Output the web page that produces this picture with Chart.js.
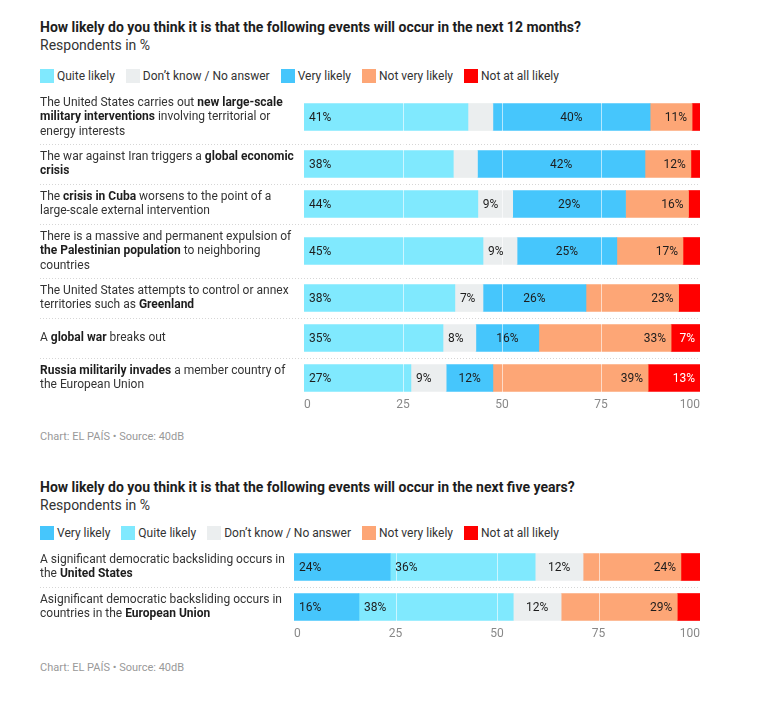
<!DOCTYPE html>
<html>
<head>
<meta charset="utf-8">
<script src="https://cdn.jsdelivr.net/npm/chart.js@4/dist/chart.umd.min.js"></script>
<style>
  body { margin: 0; background: #fff; font-family: Roboto, sans-serif; color: #333; }
  .abs { position: absolute; left: 40px; }
  .title { font-size: 14px; font-weight: 700; line-height: 18px; color: #1d1d1d; }
  .sub { font-size: 14px; line-height: 18px; color: #333; }
  .legend { display: flex; align-items: center; font-size: 12px; line-height: 16px; color: #333; }
  .legend .item { display: flex; align-items: center; margin-right: 11px; }
  .legend .sq { width: 14px; height: 14px; margin-right: 3px; }
  .source { font-size: 11px; line-height: 14px; color: #999; }
  canvas { position: absolute; left: 0; }
</style>
</head>
<body>

<div class="abs" style="top:18px">
  <div class="title">How likely do you think it is that the following events will occur in the next 12 months?</div>
  <div class="sub">Respondents in %</div>
</div>
<div class="abs legend" id="legend12" style="top:68px"></div>
<canvas id="chart12" width="777" height="328" style="top:90px"></canvas>
<div class="abs source" style="top:430px">Chart: EL PAÍS • Source: 40dB</div>

<div class="abs" style="top:478px">
  <div class="title">How likely do you think it is that the following events will occur in the next five years?</div>
  <div class="sub">Respondents in %</div>
</div>
<div class="abs legend" id="legend5" style="top:525px"></div>
<canvas id="chart5" width="777" height="100" style="top:547px"></canvas>
<div class="abs source" style="top:661px">Chart: EL PAÍS • Source: 40dB</div>

<script>
// ---- data: next 12 months (labels show rounded values) ----
const labels12 = [
  ["The United States carries out **new large-scale**", "**military interventions** involving territorial or", "energy interests"],
  ["The war against Iran triggers a **global economic**", "**crisis**"],
  ["The **crisis in Cuba** worsens to the point of a", "large-scale external intervention"],
  ["There is a massive and permanent expulsion of", "**the Palestinian population** to neighboring", "countries"],
  ["The United States attempts to control or annex", "territories such as **Greenland**"],
  ["A **global war** breaks out"],
  ["**Russia militarily invades** a member country of", "the European Union"]
];
const quiteLikely12 = [41.4, 37.7, 43.9, 45.2, 38.1, 35.1, 27];
const dontKnow12 = [6.3, 6.1, 8.8, 8.6, 7.1, 8.3, 8.9];
const veryLikely12 = [39.7, 42.3, 28.5, 25.2, 26, 15.9, 11.8];
const notVeryLikely12 = [10.6, 11.6, 15.9, 16.7, 23.4, 33.4, 39.2];
const notAtAllLikely12 = [2, 2.3, 2.9, 4.3, 5.4, 7.3, 13.1];

// ---- data: next five years ----
const labels5 = [
  ["A significant democratic backsliding occurs in", "the **United States**"],
  ["Asignificant democratic backsliding occurs in", "countries in the **European Union**"]
];
const veryLikely5 = [23.7, 16];
const quiteLikely5 = [35.7, 38];
const dontKnow5 = [11.8, 11.8];
const notVeryLikely5 = [24.1, 28.6];
const notAtAllLikely5 = [4.7, 5.6];

const xTicks = [0, 25, 50, 75, 100];

const COLORS = {
  very: '#46c6fc',
  quite: '#80e9fe',
  dk: '#ebeeef',
  notVery: '#fda676',
  notAtAll: '#ff0000'
};

// row height depends on how many lines the label needs
function rowHeight(lines) { return lines.length >= 3 ? 54 : 40; }

function rowLayout(labels) {
  let y = 0;
  const centers = [], bounds = [];
  labels.forEach((l, i) => {
    const h = rowHeight(l);
    centers.push(y + h / 2);
    y += h;
    if (i < labels.length - 1) bounds.push(y);
  });
  return {centers, bounds, total: y};
}

function buildLegend(id, series) {
  const el = document.getElementById(id);
  series.forEach(s => {
    const item = document.createElement('span');
    item.className = 'item';
    item.innerHTML = '<span class="sq" style="background:' + s.color + '"></span>' + s.name;
    el.appendChild(item);
  });
}

// mixed bold/regular text in one line
function drawRichLine(ctx, line, x, y) {
  const parts = line.split('**');
  let cx = x;
  parts.forEach((p, i) => {
    if (!p) return;
    const bold = i % 2 === 1;
    ctx.font = (bold ? '700 ' : '400 ') + '12px Roboto';
    ctx.fillStyle = bold ? '#1d1d1d' : '#333';
    ctx.fillText(p, cx, y);
    cx += ctx.measureText(p).width;
  });
}

const decor = {
  id: 'decor',
  beforeDatasetsDraw(chart, args, opts) {
    const ctx = chart.ctx, ys = chart.scales.y;
    ctx.save();
    ctx.strokeStyle = '#d6d6d6';
    ctx.lineWidth = 1;
    ctx.setLineDash([1, 2]);
    opts.bounds.forEach(b => {
      const py = Math.round(ys.getPixelForValue(b)) + 0.5;
      ctx.beginPath();
      ctx.moveTo(40, py);
      ctx.lineTo(chart.chartArea.right, py);
      ctx.stroke();
    });
    ctx.restore();
  },
  afterDatasetsDraw(chart, args, opts) {
    const ctx = chart.ctx, xs = chart.scales.x, ys = chart.scales.y;
    const area = chart.chartArea;
    ctx.save();
    // white grid lines over the bars
    ctx.strokeStyle = 'rgba(255,255,255,0.6)';
    ctx.lineWidth = 1;
    [25, 50, 75].forEach(v => {
      const px = Math.round(xs.getPixelForValue(v)) + 0.5;
      ctx.beginPath();
      ctx.moveTo(px, area.top);
      ctx.lineTo(px, area.bottom);
      ctx.stroke();
    });
    // value labels
    ctx.font = '12px Roboto';
    ctx.textBaseline = 'middle';
    chart.data.datasets.forEach((ds, i) => {
      const meta = chart.getDatasetMeta(i);
      meta.data.forEach((bar, j) => {
        const v = Math.round(ds.data[j].x);
        if (v < 7) return;
        const txt = v + '%';
        let tx;
        if (ds.labelAlign === 'left') { ctx.textAlign = 'left'; tx = bar.base + 5; }
        else if (ds.labelAlign === 'right') { ctx.textAlign = 'right'; tx = bar.x - 5; }
        else { ctx.textAlign = 'center'; tx = (bar.base + bar.x) / 2; }
        ctx.fillStyle = ds.backgroundColor === COLORS.notAtAll ? '#fff' : '#1d1d1d';
        ctx.fillText(txt, tx, bar.y + 0.5);
      });
    });
    // category labels
    ctx.textAlign = 'left';
    opts.labels.forEach((lines, j) => {
      const cy = ys.getPixelForValue(opts.centers[j]);
      lines.forEach((line, k) => {
        drawRichLine(ctx, line, 40, cy + (k - (lines.length - 1) / 2) * 14.5);
      });
    });
    ctx.restore();
  }
};

function makeChart(id, labels, series, left) {
  const rows = rowLayout(labels);
  return new Chart(document.getElementById(id), {
    type: 'bar',
    data: {
      datasets: series.map(s => ({
        label: s.name,
        data: s.data.map((v, j) => ({x: v, y: rows.centers[j]})),
        backgroundColor: s.color,
        borderWidth: 0,
        barThickness: 27,
        labelAlign: s.align
      }))
    },
    options: {
      indexAxis: 'y',
      responsive: false,
      animation: false,
      layout: {padding: {left: left, right: 77, top: 0, bottom: 0}},
      scales: {
        x: {
          type: 'linear', min: 0, max: 100, stacked: true,
          afterBuildTicks: s => { s.ticks = xTicks.map(v => ({value: v})); },
          afterFit: s => { s.height = 20; },
          ticks: {color: '#888', padding: 0, align: 'inner', font: {family: 'Roboto', size: 12}},
          grid: {display: false, drawTicks: false},
          border: {display: false}
        },
        y: {
          type: 'linear', min: 0, max: rows.total, reverse: true, stacked: true,
          offset: false, grid: {offset: false}, display: false
        }
      },
      plugins: {
        legend: {display: false},
        tooltip: {enabled: false},
        decor: {labels: labels, centers: rows.centers, bounds: rows.bounds}
      }
    },
    plugins: [decor]
  });
}

const series12 = [
  {name: 'Quite likely', color: COLORS.quite, data: quiteLikely12, align: 'left'},
  {name: 'Don’t know / No answer', color: COLORS.dk, data: dontKnow12, align: 'left'},
  {name: 'Very likely', color: COLORS.very, data: veryLikely12, align: 'center'},
  {name: 'Not very likely', color: COLORS.notVery, data: notVeryLikely12, align: 'right'},
  {name: 'Not at all likely', color: COLORS.notAtAll, data: notAtAllLikely12, align: 'right'}
];
const series5 = [
  {name: 'Very likely', color: COLORS.very, data: veryLikely5, align: 'left'},
  {name: 'Quite likely', color: COLORS.quite, data: quiteLikely5, align: 'left'},
  {name: 'Don’t know / No answer', color: COLORS.dk, data: dontKnow5, align: 'center'},
  {name: 'Not very likely', color: COLORS.notVery, data: notVeryLikely5, align: 'right'},
  {name: 'Not at all likely', color: COLORS.notAtAll, data: notAtAllLikely5, align: 'right'}
];

buildLegend('legend12', series12);
buildLegend('legend5', series5);
makeChart('chart12', labels12, series12, 304);
makeChart('chart5', labels5, series5, 294);
</script>
</body>
</html>
